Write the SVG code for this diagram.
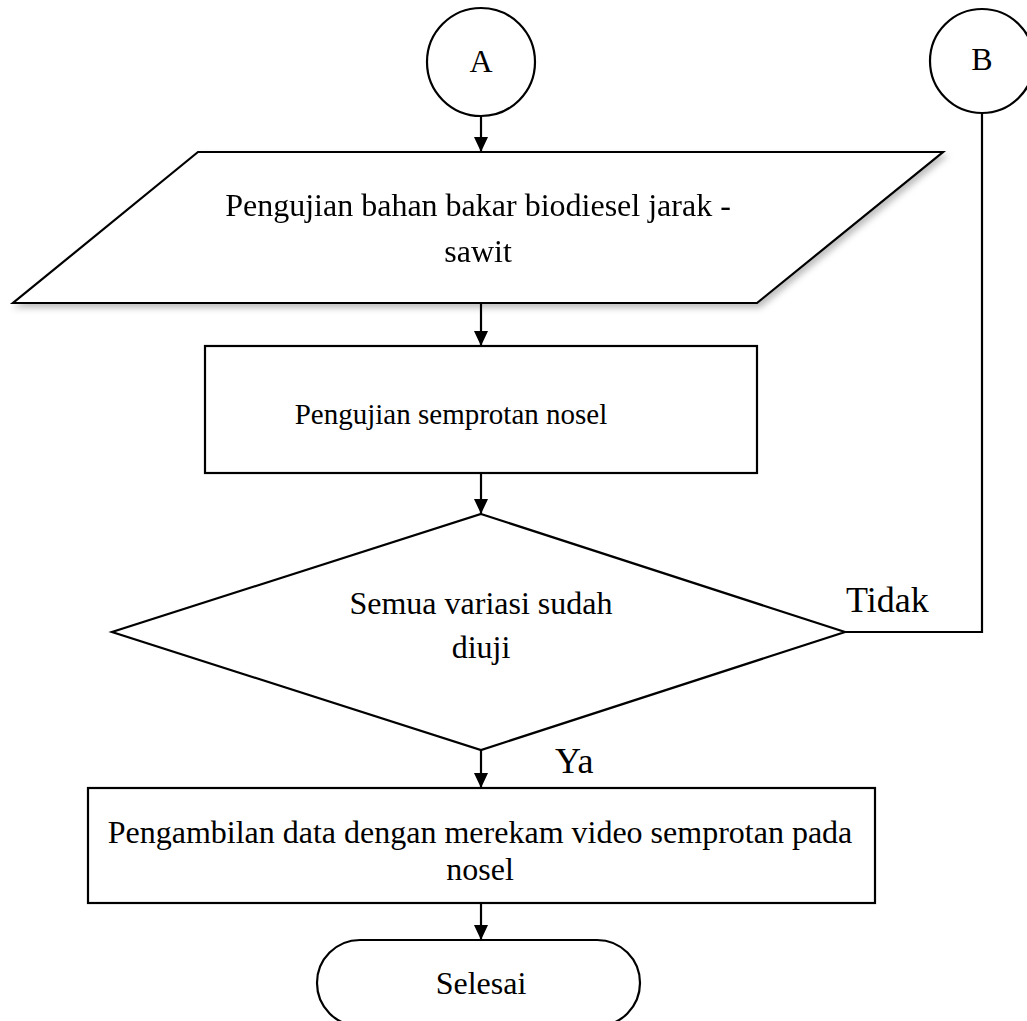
<svg xmlns="http://www.w3.org/2000/svg" width="1027" height="1021" viewBox="0 0 1027 1021">
  <style>
    .shape { fill: #ffffff; stroke: #000000; stroke-width: 2.2; }
    .conn { fill: none; stroke: #000000; stroke-width: 2.2; }
    .label { font-family: "Liberation Serif", "Times New Roman", serif; font-size: 32px; fill: #000000; text-anchor: middle; }
    .side { text-anchor: start; font-size: 36px; }
    .small { font-size: 29px; }
  </style>
  <defs>
    <marker id="arrow" markerWidth="16" markerHeight="14" refX="15" refY="7" orient="auto" markerUnits="userSpaceOnUse">
      <path d="M0,0 L15,7 L0,14 Z" fill="#000000"/>
    </marker>
    <filter id="soft-shadow" x="-5%" y="-10%" width="112%" height="125%">
      <feDropShadow dx="3" dy="4" stdDeviation="3" flood-color="#000000" flood-opacity="0.25"/>
    </filter>
  </defs>
  <rect width="1027" height="1021" fill="#ffffff"/>

  <!-- connectors -->
  <g id="connectors">
    <line class="conn" x1="481" y1="116" x2="481" y2="152" marker-end="url(#arrow)"/>
    <line class="conn" x1="481" y1="303" x2="481" y2="346" marker-end="url(#arrow)"/>
    <line class="conn" x1="481" y1="473" x2="481" y2="514" marker-end="url(#arrow)"/>
    <polyline class="conn" points="982,113 982,632 845,632"/>
    <line class="conn" x1="481" y1="750" x2="481" y2="788" marker-end="url(#arrow)"/>
    <line class="conn" x1="481" y1="903" x2="481" y2="940" marker-end="url(#arrow)"/>
    <text class="label side" x="846" y="612">Tidak</text>
    <text class="label side" x="555" y="773">Ya</text>
  </g>

  <!-- connector A -->
  <g id="node-a">
    <circle class="shape" cx="481" cy="62" r="54"/>
    <text class="label" x="481" y="72">A</text>
  </g>

  <!-- connector B -->
  <g id="node-b">
    <circle class="shape" cx="982" cy="61" r="52"/>
    <text class="label" x="982" y="70">B</text>
  </g>

  <!-- input: fuel test -->
  <g id="node-input" filter="url(#soft-shadow)">
    <polygon class="shape" points="198,152 943,152 757,303 13,303"/>
    <text class="label" x="478" y="216">Pengujian bahan bakar biodiesel jarak -</text>
    <text class="label" x="478" y="262">sawit</text>
  </g>

  <!-- process: spray test -->
  <g id="node-spray">
    <rect class="shape" x="205" y="346" width="552" height="127"/>
    <text class="label small" x="451" y="424">Pengujian semprotan nosel</text>
  </g>

  <!-- decision -->
  <g id="node-decision">
    <polygon class="shape" points="481,514 845,632 481,750 112,632"/>
    <text class="label" x="481" y="614">Semua variasi sudah</text>
    <text class="label" x="481" y="658">diuji</text>
  </g>

  <!-- process: data capture -->
  <g id="node-record">
    <rect class="shape" x="88" y="788" width="787" height="115"/>
    <text class="label" x="480" y="843">Pengambilan data dengan merekam video semprotan pada</text>
    <text class="label" x="480" y="880">nosel</text>
  </g>

  <!-- terminator -->
  <g id="node-end">
    <rect class="shape" x="317" y="940" width="323" height="86" rx="43" ry="43"/>
    <text class="label" x="481" y="994">Selesai</text>
  </g>
</svg>
